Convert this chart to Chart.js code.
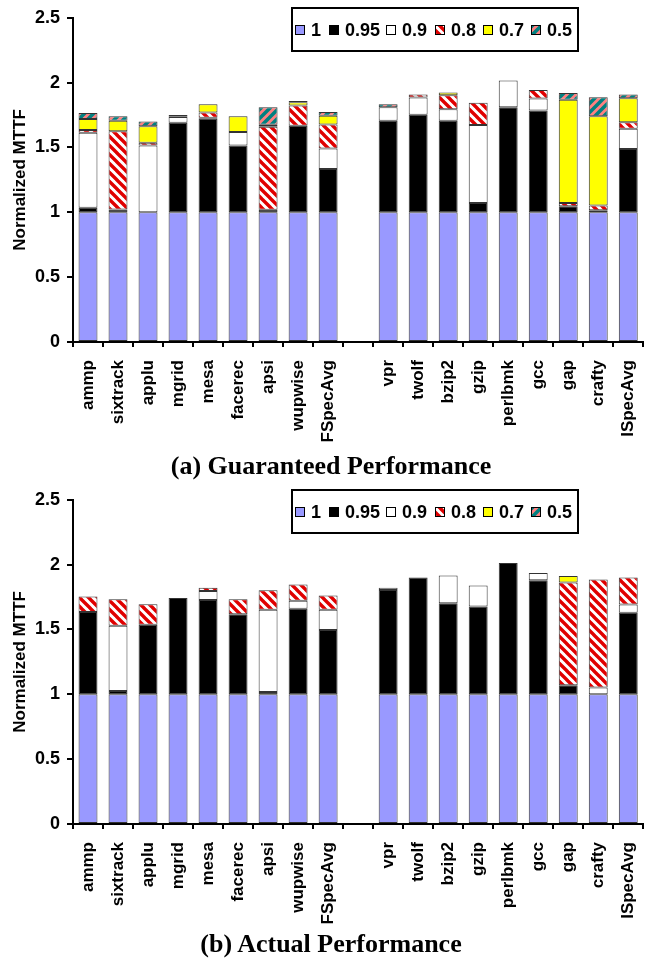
<!DOCTYPE html>
<html>
<head>
<meta charset="utf-8">
<script src="https://cdn.jsdelivr.net/npm/chart.js@4.4.1/dist/chart.umd.min.js"></script>
<style>
html,body{margin:0;padding:0;background:#fff;}
#wrap{position:relative;width:662px;height:965px;overflow:hidden;}
.cv{position:absolute;left:0;width:662px;height:481px;}
.title{position:absolute;left:0;width:662px;text-align:center;font-family:"Liberation Serif","Times New Roman",serif;font-weight:bold;font-size:26px;line-height:30px;color:#000;}
</style>
</head>
<body>
<div id="wrap">
  <div class="cv" style="top:0px"><canvas id="c1" width="662" height="481"></canvas></div>
  <div class="title" style="top:451px">(a) Guaranteed Performance</div>
  <div class="cv" style="top:482px"><canvas id="c2" width="662" height="481"></canvas></div>
  <div class="title" style="top:929px">(b) Actual Performance</div>
</div>
<script>
// ---------------- DATA ----------------
const categories = ['ammp','sixtrack','applu','mgrid','mesa','facerec','apsi','wupwise','FSpecAvg','',
                    'vpr','twolf','bzip2','gzip','perlbmk','gcc','gap','crafty','ISpecAvg'];
const seriesNames = ['1','0.95','0.9','0.8','0.7','0.5'];
const yTicks = [0, 0.5, 1, 1.5, 2, 2.5];

// (a) Guaranteed Performance – stacked segment heights
const guar_1    = [1,1,1,1,1,1,1,1,1,null, 1,1,1,1,1,1,1,1,1];
const guar_095  = [0.035,0.022,0,0.69,0.722,0.516,0.02,0.667,0.334,null, 0.707,0.752,0.707,0.072,0.81,0.785,0.047,0.015,0.488];
const guar_09   = [0.579,0,0.515,0.045,0.008,0.103,0,0,0.159,null, 0.103,0.134,0.088,0.602,0.207,0.093,0,0,0.156];
const guar_08   = [0.02,0.604,0.021,0.005,0.04,0,0.64,0.156,0.184,null, 0,0.022,0.108,0.171,0,0.065,0.025,0.037,0.05];
const guar_07   = [0.086,0.081,0.128,0.01,0.063,0.121,0.015,0.025,0.068,null, 0,0,0.021,0,0,0,0.796,0.688,0.186];
const guar_05   = [0.045,0.033,0.036,0,0,0,0.135,0.01,0.028,null, 0.023,0,0,0,0,0,0.053,0.148,0.028];

// (b) Actual Performance – stacked segment heights
const act_1     = [1,1,1,1,1,1,1,1,1,null, 1,1,1,1,1,1,1,1,1];
const act_095   = [0.634,0.025,0.536,0.742,0.727,0.617,0.017,0.659,0.496,null, 0.805,0.9,0.702,0.677,1.013,0.88,0.07,0,0.629];
const act_09    = [0,0.504,0,0,0.07,0,0.635,0.063,0.156,null, 0.017,0,0.215,0.163,0,0.055,0,0.053,0.063];
const act_08    = [0.12,0.205,0.158,0,0.025,0.117,0.15,0.125,0.11,null, 0,0,0,0,0,0,0.792,0.832,0.208];
const act_07    = [0,0,0,0,0,0,0,0,0,null, 0,0,0,0,0,0,0.05,0,0];
const act_05    = [0,0,0,0,0,0,0,0,0,null, 0,0,0,0,0,0,0,0,0];

// ---------------- STYLE ----------------
const FONT = '"Liberation Sans", Arial, sans-serif';
Chart.defaults.font.family = FONT;
Chart.defaults.color = '#000';

function makeHatch(bg, fg, dir, size, lw) {
  const c = document.createElement('canvas');
  c.width = c.height = size;
  const g = c.getContext('2d');
  g.fillStyle = bg; g.fillRect(0, 0, size, size);
  g.strokeStyle = fg; g.lineWidth = lw;
  g.beginPath();
  for (let k = -1; k <= 1; k++) {
    if (dir === 'back') { g.moveTo(k*size - 1, -1); g.lineTo(k*size + size + 1, size + 1); }
    else { g.moveTo(k*size - 1, size + 1); g.lineTo(k*size + size + 1, -1); }
  }
  g.stroke();
  return g.createPattern(c, 'repeat');
}
const redHatch  = makeHatch('#ffffff', '#e00000', 'back', 9, 3.4);
const tealHatch = makeHatch('#ff8080', '#008080', 'fwd', 9, 3.6);
const colors = ['#9999ff', '#000000', '#ffffff', redHatch, '#ffff00', tealHatch];

const boxLegend = {
  id: 'boxLegend',
  afterDraw(chart) {
    const ctx = chart.ctx;
    ctx.save();
    const bx = 292, by = 8, bw = 286, bh = 43;
    ctx.fillStyle = '#fff'; ctx.fillRect(bx, by, bw, bh);
    ctx.lineWidth = 2; ctx.strokeStyle = '#000'; ctx.strokeRect(bx, by, bw, bh);
    ctx.font = 'bold 18px ' + FONT;
    ctx.textBaseline = 'middle';
    const textX = [311, 345, 402, 451, 499, 547];
    const cy = 30;
    chart.data.datasets.forEach((ds, i) => {
      const sx = textX[i] - 16;
      ctx.fillStyle = ds.backgroundColor;
      ctx.fillRect(sx, cy - 5, 10, 10);
      ctx.lineWidth = 1; ctx.strokeStyle = '#000';
      ctx.strokeRect(sx + 0.5, cy - 4.5, 9, 9);
      ctx.fillStyle = '#000';
      ctx.fillText(ds.label, textX[i], cy + 1);
    });
    ctx.restore();
  }
};

function buildChart(id, series) {
  const datasets = seriesNames.map((name, i) => ({
    label: name,
    data: series[i],
    backgroundColor: colors[i],
    borderColor: '#333',
    borderWidth: 1,
    borderSkipped: false,
    barPercentage: 0.63,
    categoryPercentage: 1.0
  }));
  return new Chart(document.getElementById(id), {
    type: 'bar',
    data: { labels: categories, datasets },
    plugins: [boxLegend],
    options: {
      responsive: false,
      animation: false,
      devicePixelRatio: 1,
      layout: { padding: { left: 0, right: 13, top: 11, bottom: 0 } },
      plugins: { legend: { display: false }, tooltip: { enabled: false } },
      scales: {
        x: {
          stacked: true,
          offset: true,
          ticks: { autoSkip: false, minRotation: 90, maxRotation: 90, color: '#000',
                   font: { family: FONT, weight: 'bold', size: 17 }, padding: 13 },
          grid: { drawOnChartArea: false, color: '#000', lineWidth: 2, tickLength: 5, offset: true },
          border: { color: '#000', width: 2 },
          afterFit(s) { s.height = 139; }
        },
        y: {
          stacked: true,
          min: yTicks[0], max: yTicks[yTicks.length - 1],
          afterBuildTicks(s) { s.ticks = yTicks.map(v => ({ value: v })); },
          ticks: { color: '#000', font: { family: FONT, weight: 'bold', size: 18 }, padding: 7,
                   callback: v => String(v) },
          grid: { drawOnChartArea: false, color: '#000', lineWidth: 2, tickLength: 6 },
          border: { color: '#000', width: 2 },
          title: { display: true, text: 'Normalized MTTF', color: '#000',
                   font: { family: FONT, weight: 'bold', size: 17 }, padding: { top: 10, bottom: 0 } },
          afterFit(s) { s.width = 73; }
        }
      }
    }
  });
}

buildChart('c1', [guar_1, guar_095, guar_09, guar_08, guar_07, guar_05]);
buildChart('c2', [act_1, act_095, act_09, act_08, act_07, act_05]);
</script>
</body>
</html>
